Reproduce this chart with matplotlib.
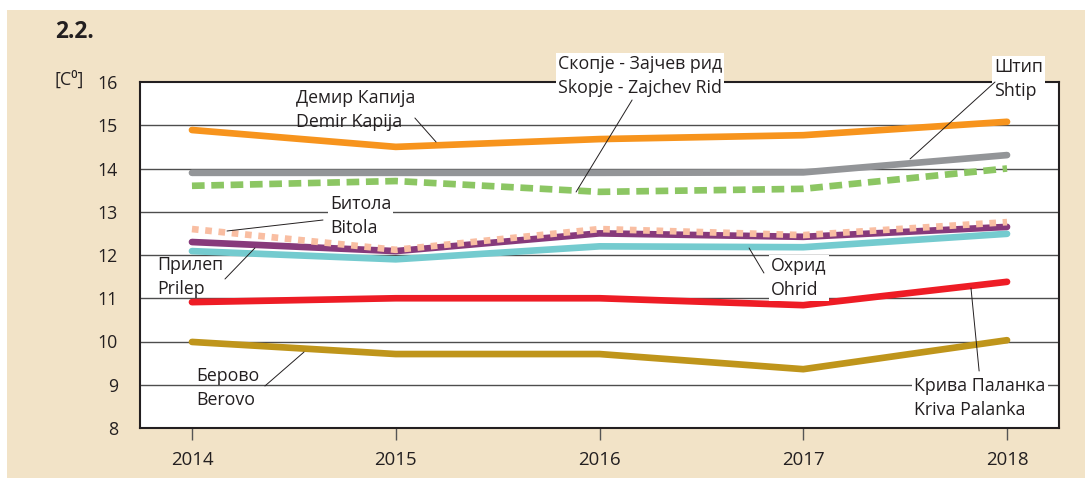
import numpy as np
import matplotlib
matplotlib.use("Agg")
import matplotlib.pyplot as plt
from matplotlib.patches import Rectangle

plt.rcParams['font.family'] = ['Open Sans', 'DejaVu Sans']

# Data (mean annual temperature, C)
years = [2014, 2015, 2016, 2017, 2018]
demir_kapija = [14.89, 14.50, 14.68, 14.77, 15.08]
shtip = [13.90, 13.90, 13.90, 13.91, 14.31]
skopje = [13.60, 13.71, 13.46, 13.53, 14.00]
ohrid = [12.09, 11.90, 12.20, 12.18, 12.49]
prilep = [12.30, 12.09, 12.50, 12.42, 12.65]
bitola = [12.60, 12.12, 12.60, 12.46, 12.76]
kriva_palanka = [10.91, 11.00, 11.00, 10.84, 11.38]
berovo = [9.99, 9.71, 9.71, 9.36, 10.03]

yticks = [8, 9, 10, 11, 12, 13, 14, 15, 16]

W, H = 1085, 478
fig = plt.figure(figsize=(W / 100, H / 100), dpi=100, facecolor='white')
fig.patches.append(Rectangle((7 / W, 0), 1 - 7 / W, 1 - 10 / H, transform=fig.transFigure,
                             facecolor='#f2e3c7', edgecolor='none', zorder=-10))

ax = fig.add_axes([140 / W, 50 / H, 919 / W, 346 / H])
ax.set_facecolor('white')
ax.set_xlim(2013.745, 2018.255)
ax.set_ylim(8, 16)

txt = '#231f20'
for v in yticks[1:-1]:
    ax.axhline(v, color='#4d4d4d', lw=1.0, zorder=1)

lw = 4.8
ax.plot(years, demir_kapija, color='#f7941d', lw=lw, solid_capstyle='round', zorder=3)
ax.plot(years, shtip, color='#939598', lw=lw, solid_capstyle='round', zorder=3)
ax.plot(years, skopje, color='#8cc663', lw=lw, dashes=(1.9, 1.0), dash_capstyle='butt', zorder=3)
ax.plot(years, ohrid, color='#74cbcf', lw=lw, solid_capstyle='round', zorder=3)
ax.plot(years, prilep, color='#873a7b', lw=lw, solid_capstyle='round', zorder=3)
ax.plot(years, bitola, color='#f9bea2', lw=lw, dashes=(1.0, 1.0), dash_capstyle='butt', zorder=4)
ax.plot(years, kriva_palanka, color='#ee1c25', lw=lw, solid_capstyle='round', zorder=3)
ax.plot(years, berovo, color='#bf951b', lw=lw, solid_capstyle='round', zorder=3)

for s in ax.spines.values():
    s.set_color('#231f20')
    s.set_linewidth(1.5)
    s.set_zorder(5)

ax.set_xticks(years)
ax.set_xticklabels([str(y) for y in years])
ax.set_yticks(yticks)
ax.tick_params(axis='x', direction='out', length=8.5, width=1, color='#555555', pad=8,
               labelsize=13.4, labelcolor=txt)
ax.tick_params(axis='y', length=0, pad=16, labelsize=12.8, labelcolor=txt)

fs = 12.8


def label(text, tx, ty, p0, p1, box=False):
    kw = dict(fontsize=fs, color=txt, ha='left', va='center', linespacing=1.45,
              zorder=6, clip_on=False)
    if box:
        kw['bbox'] = dict(boxstyle='square,pad=0.12', facecolor='white', edgecolor='none')
    ax.text(tx, ty, text, **kw)
    ax.annotate('', xy=p1, xytext=p0,
                arrowprops=dict(arrowstyle='-', color=txt, lw=0.7, shrinkA=0, shrinkB=0),
                zorder=6, annotation_clip=False)


label('Демир Капија\nDemir Kapija', 2014.51, 15.35, (2015.094, 15.168), (2015.198, 14.613))
label('Скопје - Зајчев рид\nSkopje - Zajchev Rid', 2015.796, 16.139,
      (2016.160, 15.584), (2015.885, 13.457), box=True)
label('Штип\nShtip', 2017.936, 16.069, (2017.941, 16.0), (2017.524, 14.22), box=True)
label('Битола\nBitola', 2014.677, 12.902, (2014.643, 12.809), (2014.172, 12.555), box=True)
label('Прилеп\nPrilep', 2013.828, 11.491, (2014.162, 11.445), (2014.309, 12.162))
label('Охрид\nOhrid', 2016.842, 11.468, (2016.807, 11.584), (2016.734, 12.162), box=True)
label('Крива Паланка\nKriva Palanka', 2017.544, 8.694, (2017.863, 9.318), (2017.823, 11.237), box=True)
label('Берово\nBerovo', 2014.02, 8.925, (2014.358, 8.971), (2014.55, 9.757))

fig.text(55 / W, 1 - 32 / H, '2.2.', fontsize=16.5, fontweight='bold', color=txt, va='center')
fig.text(55 / W, 1 - 80 / H, '[C⁰]', fontsize=13, color=txt, va='center')

fig.savefig('out.png', dpi=100, facecolor='white')
